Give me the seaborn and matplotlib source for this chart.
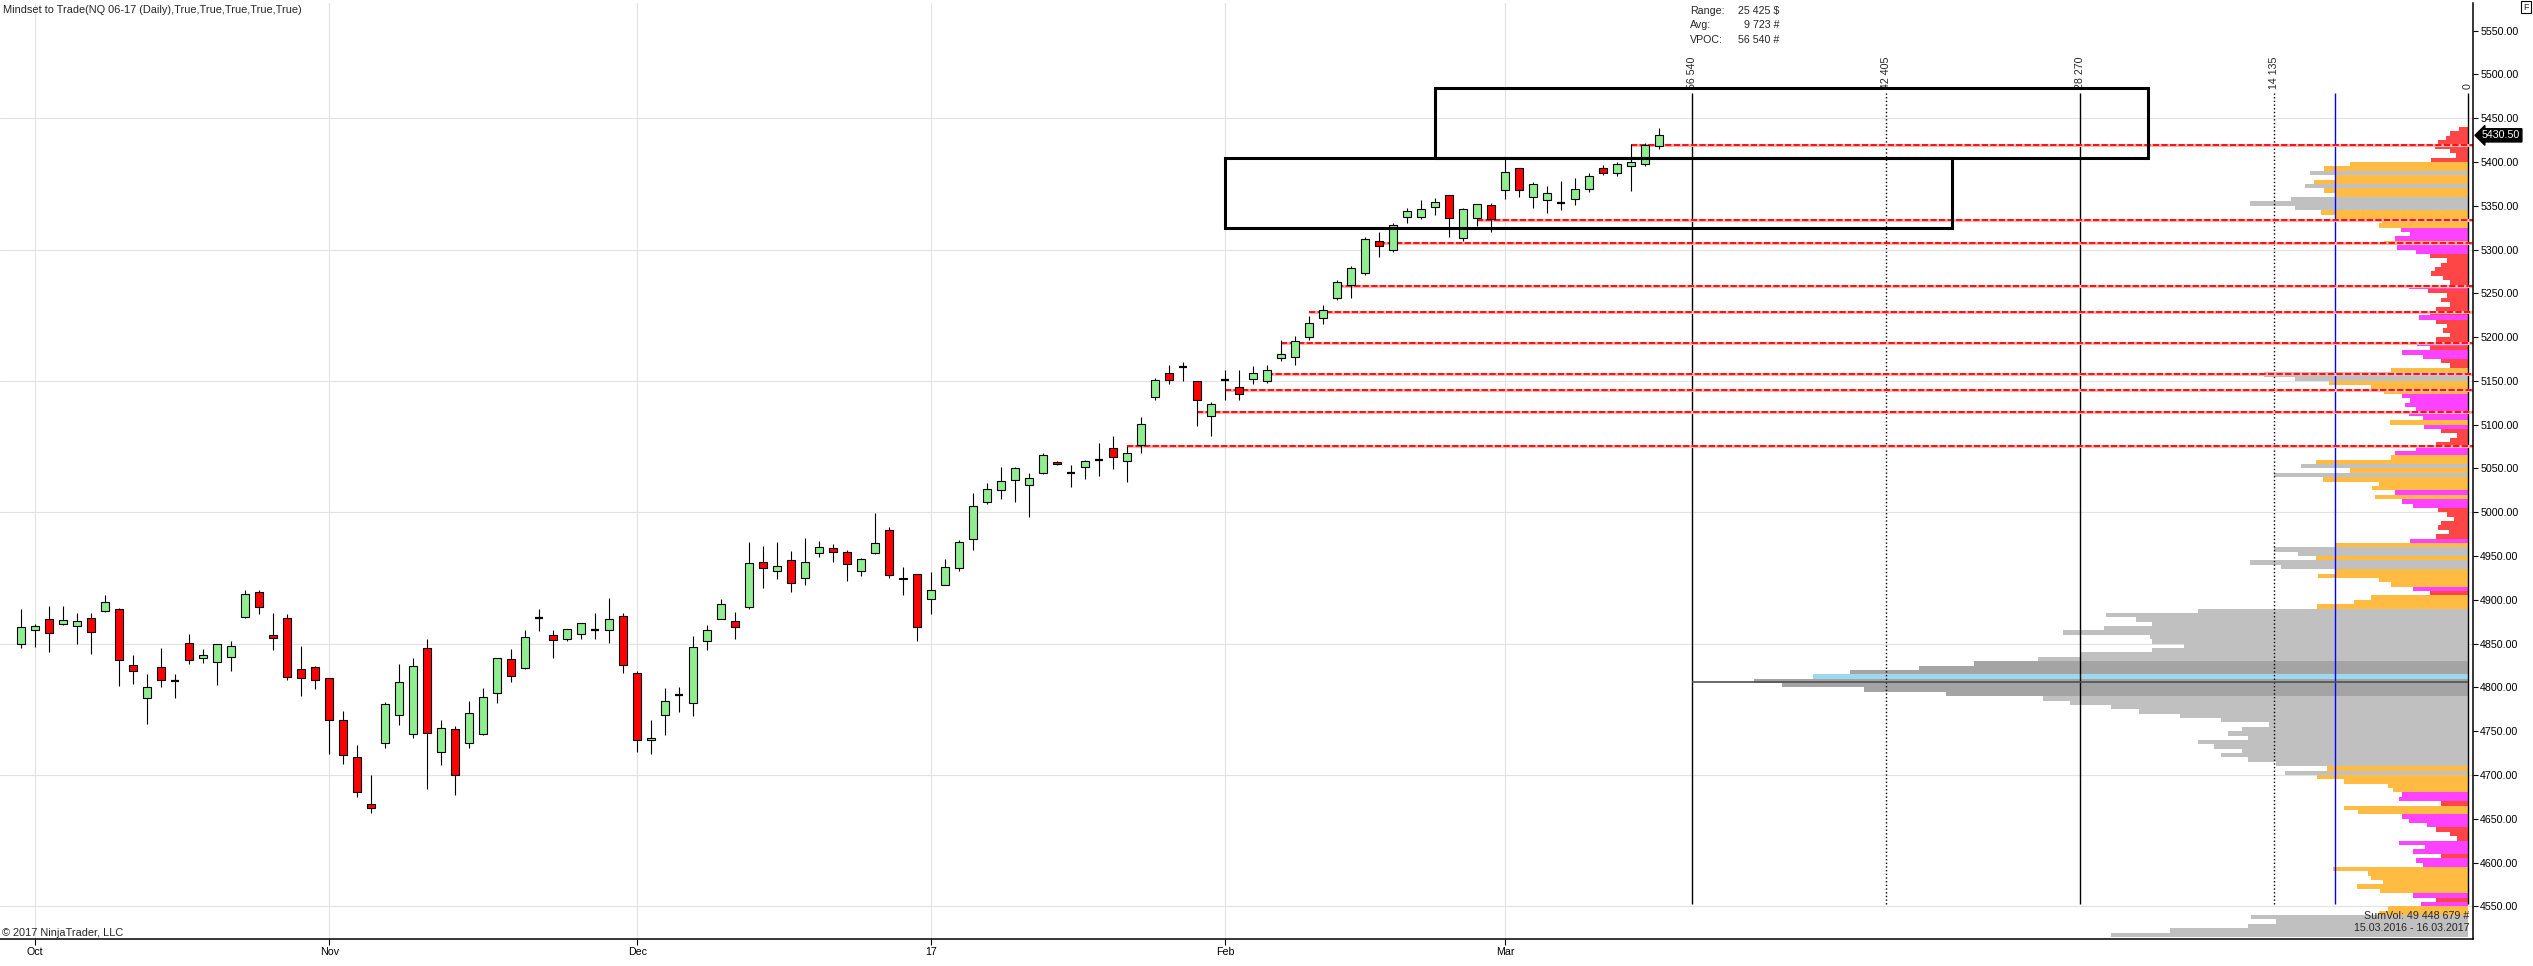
import numpy as np
import pandas as pd
import matplotlib
matplotlib.use('Agg')
import matplotlib.pyplot as plt
from matplotlib.patches import Rectangle
import seaborn as sns

## DATA
# daily bars, Sep 30 2016 .. Mar 16 2017 (NQ 06-17)
opens = [4850, 4865.5, 4878.5, 4872.75, 4870.5, 4879.5, 4887.5, 4889.75, 4826, 4787.5,
         4822.75, 4807.5, 4851, 4834, 4829.5, 4835.25, 4880.75, 4909, 4860.25, 4879.5,
         4820.5, 4822.75, 4810.25, 4762.5, 4720.5, 4667, 4736.5, 4768.25, 4746.5, 4845.5,
         4726, 4752.25, 4736.5, 4746.5, 4793.25, 4833, 4822, 4879.75, 4860.25, 4855.75,
         4861.5, 4866, 4865, 4882, 4816.75, 4740, 4768.75, 4791.5, 4782.5, 4853.5,
         4878.5, 4876.25, 4891.25, 4942.75, 4933.5, 4945, 4924.5, 4953, 4958.75, 4954.25,
         4933.5, 4953, 4979.5, 4925.5, 4929, 4901.5, 4916.5, 4936, 4969, 5011.5,
         5025.25, 5036.5, 5031, 5044.75, 5057.5, 5044.5, 5051.75, 5059.25, 5073, 5058.5,
         5076.75, 5131.5, 5158.75, 5166, 5149.5, 5109.75, 5151.5, 5142.75, 5152, 5149.5,
         5175.75, 5177, 5199.75, 5221.5, 5244.25, 5260, 5272.75, 5310.25, 5299, 5337.5,
         5337.5, 5349, 5362.75, 5313.75, 5336.5, 5351.25, 5368.25, 5393.5, 5360.5, 5357,
         5353.5, 5357.25, 5369, 5393, 5387, 5396, 5398, 5418]
highs = [4889.75, 4872.75, 4892.5, 4892.5, 4884.5, 4885.5, 4906, 4891, 4836.5, 4814.75,
         4845.5, 4814.75, 4861.5, 4844.25, 4849, 4852.75, 4911.75, 4911.75, 4885.25, 4884,
         4847.75, 4824, 4810.25, 4772.75, 4734, 4700, 4783, 4827.25, 4834, 4855.75,
         4762.5, 4755.75, 4784, 4799, 4834, 4844.25, 4866, 4889, 4866, 4867.25,
         4874, 4884.75, 4902, 4885.5, 4819, 4763, 4799.5, 4800.75, 4859.25, 4871.75,
         4900.5, 4886.5, 4966, 4961, 4966, 4955.25, 4970.25, 4966.75, 4963.5, 4956.5,
         4947.25, 4999.25, 4982.75, 4937, 4930, 4931.25, 4946.25, 4968, 5021.75, 5033.25,
         5051.5, 5051.5, 5044.75, 5067.5, 5058.5, 5054, 5059.75, 5079, 5087.5, 5076,
         5108.5, 5153, 5168, 5171.25, 5149.5, 5125.75, 5162.25, 5162.25, 5166.75, 5168,
         5196.25, 5201, 5223.75, 5236.25, 5265.75, 5281.75, 5314.75, 5320.5, 5330.75, 5347.75,
         5357, 5359.25, 5362.75, 5347.75, 5352.5, 5353.5, 5403.75, 5393.5, 5377.5, 5373,
         5378.25, 5381.25, 5388, 5397, 5400, 5421, 5422, 5439]
lows = [4845, 4846.25, 4840.5, 4871.5, 4849.5, 4838.25, 4886.5, 4802, 4804.25, 4758.75,
        4800.75, 4788.25, 4827, 4828, 4803, 4819, 4879.5, 4884, 4843.25, 4809,
        4790.5, 4798.5, 4723.5, 4712, 4674.5, 4656.75, 4730.25, 4756.5, 4742.75, 4683.75,
        4711, 4677, 4730.75, 4745.5, 4782.5, 4806.5, 4821, 4864.5, 4833.5, 4853,
        4855.25, 4855.25, 4850.75, 4816.5, 4726, 4723.5, 4745.75, 4771.75, 4767.25, 4843,
        4878.5, 4855.25, 4890, 4914, 4923.25, 4908.5, 4916.5, 4948.5, 4942.75, 4921,
        4926.75, 4952, 4924.5, 4905, 4853.5, 4884.25, 4916.5, 4933.5, 4956.5, 5009.25,
        5015, 5011.5, 4994.25, 5043.5, 5054, 5028.5, 5038, 5041, 5049, 5034.5,
        5067.5, 5128, 5146.25, 5149.5, 5098.5, 5087, 5128, 5128, 5146.25, 5147.5,
        5172.5, 5168, 5196.25, 5214.5, 5243, 5244.25, 5270.5, 5292, 5297.75, 5330.75,
        5335.25, 5340, 5314.5, 5310.25, 5327, 5320.5, 5358, 5360.5, 5347.75, 5342,
        5345.5, 5351, 5366, 5385, 5384, 5367, 5395, 5415]
closes = [4869.25, 4870.5, 4862.5, 4877.25, 4876, 4863.5, 4897.75, 4830.75, 4818.25, 4801,
          4809, 4807.5, 4830.75, 4836.5, 4849, 4847.75, 4906.75, 4892, 4856.75, 4811.5,
          4810.25, 4808, 4762.5, 4722.75, 4680.75, 4662.5, 4780.75, 4805.75, 4825, 4747.75,
          4753.5, 4700, 4770.5, 4788.5, 4833, 4812.5, 4857, 4879.75, 4854.5, 4867.25,
          4874, 4866, 4878.5, 4826, 4740, 4742.5, 4784.75, 4791.5, 4846.5, 4865,
          4895.75, 4869.5, 4941.5, 4936, 4938.25, 4919.75, 4942.75, 4960, 4954.25, 4940.5,
          4946.25, 4964.5, 4928, 4923.25, 4869.5, 4910.75, 4937, 4965.5, 5007, 5026.25,
          5035.5, 5050.5, 5039, 5065.25, 5055, 5044.5, 5058.5, 5059.25, 5063, 5067.5,
          5100.75, 5150.75, 5150.75, 5166, 5128, 5123.5, 5151.5, 5134.75, 5158.75, 5162.25,
          5180.5, 5195.25, 5215.75, 5230.5, 5262.5, 5279.5, 5312.5, 5304.5, 5328.5, 5344.5,
          5346.75, 5354.75, 5336.5, 5346.75, 5352.5, 5335.25, 5388.75, 5368.25, 5375.25, 5365,
          5353.5, 5368.75, 5384, 5388, 5398, 5400, 5419, 5430.5]

month_pos = [1, 22, 44, 65, 86, 106]
month_lbl = ['Oct', 'Nov', 'Dec', '17', 'Feb', 'Mar']

# naked levels (red dashed) and the bar they start from
level_price = [5075.5, 5114.5, 5139.4, 5157.7, 5193.0, 5229.3, 5258.2, 5308.1, 5334.3, 5419.5]
level_start = [79, 84, 86, 89, 90, 92, 94, 97, 104, 115]

# zones (bar index / price)
box_x0 = [86, 101]
box_x1 = [137.9, 151.9]
box_lo = [5325.0, 5405.0]
box_hi = [5404.6, 5485.0]

# volume profile, 5 pt rows from 5440 down to 4515
profile_top = 5440
profile_step = 5
profile_vol = [
    650, 1300, 1600, 2200, 2400, 1300, 900, 2700, 8600, 10500,
    11500, 9600, 11200, 11900, 10500, 9600, 12900, 15900, 12600, 10700,
    9600, 6300, 6450, 4900, 4200, 5300, 6100, 5200, 3800, 2800,
    1550, 2000, 2400, 2700, 1800, 1300, 4300, 2900, 1550, 2000,
    1300, 2300, 2800, 3550, 2300, 1550, 1800, 1300, 2300, 3700,
    2800, 4800, 3300, 2000, 1300, 5600, 14900, 12600, 10100, 7100,
    6100, 4800, 4200, 4600, 3800, 4300, 3300, 5700, 3200, 2000,
    800, 1300, 2300, 3800, 5300, 5600, 11100, 12200, 8600, 14100,
    10600, 6450, 7000, 5300, 6800, 4800, 4000, 2200, 1550, 1050,
    2000, 2200, 1400, 2300, 4200, 9600, 14100, 12400, 11100, 15900,
    13600, 9600, 10900, 6450, 5600, 4000, 2800, 7100, 8300, 11000,
    19700, 26400, 24200, 23000, 26500, 29500, 23200, 23000, 20700, 23000,
    28200, 31300, 36000, 40000, 45000, 47700, 52000, 50000, 44000, 38000,
    31000, 29000, 26000, 24000, 21000, 18000, 14500, 16500, 17500, 16000,
    19700, 18500, 16500, 18000, 16000, 14000, 10300, 13300, 11000, 9000,
    5800, 5500, 4800, 5000, 2000, 9000, 8000, 4800, 4300, 3000,
    2300, 1300, 800, 5000, 3100, 4000, 2000, 3800, 3300, 9800,
    7300, 7100, 6200, 8100, 6400, 4000, 2300, 3400, 5800, 6500,
    15800, 14000, 16000, 21700, 26000,
]
blue_row = 4812.5

marker_vol = [56540, 42405, 28270, 14135, 0]
marker_lbl = ['56 540', '42 405', '28 270', '14 135', '0']
marker_ls = ['-', ':', '-', ':', '-']
avg_vol = 9723
vpoc_price = 4806
vpoc_vol = 56540
marker_lo, marker_hi = 4552.3, 5478.5
last_price = 5430.5

## FIGURE
W, H = 2533, 966

def fx(px):
    return px / W

def fy(py):
    return 1 - py / H

sns.set_style('white')
plt.rcParams['font.family'] = ['Liberation Sans', 'DejaVu Sans']
fs = 7.7

fig = plt.figure(figsize=(W / 100, H / 100), dpi=100, facecolor='white')
ax = fig.add_axes([0, fy(939.3), fx(2473), fy(3.3) - fy(939.3)])
ax2 = ax.twiny()
ax.set_zorder(2)
ax2.set_zorder(1)
ax.patch.set_visible(False)

xlim = (-1.52, 175.12)
ylim = (4512.3, 5581.3)

# profile on the twin axis (volume grows to the left)
n = len(profile_vol)
prof = pd.DataFrame({'price': profile_top - profile_step / 2 - profile_step * np.arange(n),
                     'vol': profile_vol})

def band(row):
    if abs(row.price - blue_row) < 0.1:
        return 'blue'
    v = row.vol
    if v >= 32000:
        return 'dark'
    if v >= 11500:
        return 'gray'
    if v >= 5500:
        return 'orange'
    if v >= 3000:
        return 'magenta'
    return 'red'

prof['band'] = prof.apply(band, axis=1)
band_colors = {'red': '#ff4646', 'magenta': '#ff42ff', 'orange': '#ffbb42',
               'gray': '#c0c0c0', 'dark': '#a4a4a4', 'blue': '#9dd8ee'}
sns.histplot(data=prof, y='price', weights='vol', binwidth=profile_step,
             binrange=(profile_top - profile_step * n, profile_top), hue='band',
             hue_order=list(band_colors), palette=band_colors, multiple='layer',
             element='bars', fill=True, alpha=1, linewidth=0, legend=False, ax=ax2)

for y in range(4550, 5451, 150):
    ax2.axhline(y, color='#e2e2e2', lw=0.8, zorder=0)

ax2.vlines(marker_vol, marker_lo, marker_hi, colors='black', linestyles=marker_ls, lw=1.0, zorder=3)
ax2.vlines(avg_vol, marker_lo, marker_hi, colors='#0000ff', lw=1.0, zorder=3)
ax2.hlines(vpoc_price, 0, vpoc_vol, colors='#505050', lw=1.2, zorder=3)
for v, t in zip(marker_vol, marker_lbl):
    ax2.text(v, marker_hi + 5, t, rotation=90, ha='center', va='bottom', fontsize=fs)

vol_per_px = 14135 / 194
ax2.set_xlim(2468 * vol_per_px, -5 * vol_per_px)
ax2.set_xlabel('')
ax2.set_ylabel('')
ax2.tick_params(top=False, labeltop=False)
for s in ax2.spines.values():
    s.set_visible(False)

# candles
o = np.array(opens)
h = np.array(highs)
l = np.array(lows)
c = np.array(closes)
idx = np.arange(len(o))
bw = 0.57
doji = o == c
ax.vlines(idx, l, h, color='black', lw=0.8, zorder=3)
body_col = np.where(c > o, '#90ee90', '#ff0000')
ax.bar(idx[~doji], np.abs(c - o)[~doji], bottom=np.minimum(o, c)[~doji], width=bw,
       color=body_col[~doji], edgecolor='black', linewidth=0.8, zorder=4)
ax.hlines(o[doji], idx[doji] - bw / 2, idx[doji] + bw / 2, color='black', lw=1.6, zorder=4)

for m in month_pos:
    ax.axvline(m, color='#e2e2e2', lw=0.8, zorder=0)

# naked levels
ax.hlines(level_price, level_start, xlim[1], colors='#ffb0b0', lw=2.2, zorder=2)
ax.hlines(level_price, level_start, xlim[1], colors='#ff1010', lw=1.4,
          linestyles=(0, (3.2, 1.2)), zorder=2)

# zones
for x0, x1, lo, hi in zip(box_x0, box_x1, box_lo, box_hi):
    ax.add_patch(Rectangle((x0, lo), x1 - x0, hi - lo, fill=False, ec='black', lw=2.2, zorder=6))

ax.set_xlim(*xlim)
ax.set_ylim(*ylim)
ax2.set_ylim(*ylim)

ax.yaxis.tick_right()
ax.set_yticks(np.arange(4550, 5551, 50))
ax.set_yticklabels([f'{t:.2f}' for t in np.arange(4550, 5551, 50)])
ax.tick_params(axis='y', direction='out', length=3.6, width=0.8, labelsize=fs, pad=1.5,
               right=True, left=False, colors='black')
ax.set_xticks(month_pos)
ax.set_xticklabels(month_lbl)
ax.tick_params(axis='x', direction='out', length=4.3, width=0.8, labelsize=fs, pad=1,
               bottom=True, colors='black')
for side in ['left', 'top']:
    ax.spines[side].set_visible(False)
for side in ['right', 'bottom']:
    ax.spines[side].set_visible(True)
    ax.spines[side].set_color('black')
    ax.spines[side].set_linewidth(1.1)

# last price tag
ax.annotate(f'{last_price:.2f}', xy=(1, last_price), xycoords=('axes fraction', 'data'),
            xytext=(6.5, 0), textcoords='offset points', ha='left', va='center',
            color='white', fontsize=fs,
            bbox=dict(boxstyle='larrow,pad=0.15', fc='black', ec='black'))

## TEXTS
fig.text(fx(3), fy(10), 'Mindset to Trade(NQ 06-17 (Daily),True,True,True,True,True)',
         ha='left', va='center', fontsize=7.9)
fig.text(fx(2), fy(933), '\u00a9 2017 NinjaTrader, LLC', ha='left', va='center', fontsize=7.9)
for i, (k, v) in enumerate([('Range:', '25 425 $'), ('Avg:', '9 723 #'), ('VPOC:', '56 540 #')]):
    fig.text(fx(1690), fy(11 + 14.5 * i), k, ha='left', va='center', fontsize=fs)
    fig.text(fx(1779), fy(11 + 14.5 * i), v, ha='right', va='center', fontsize=fs)
fig.text(fx(2469), fy(916), 'SumVol: 49 448 679 #', ha='right', va='center', fontsize=fs)
fig.text(fx(2469), fy(928), '15.03.2016 - 16.03.2017', ha='right', va='center', fontsize=fs)
fig.text(fx(2526), fy(7), 'F', ha='center', va='center', fontsize=6.5,
         bbox=dict(boxstyle='square,pad=0.2', fc='white', ec='black', lw=0.8))

fig.savefig('out.png', dpi=100, facecolor='white')
